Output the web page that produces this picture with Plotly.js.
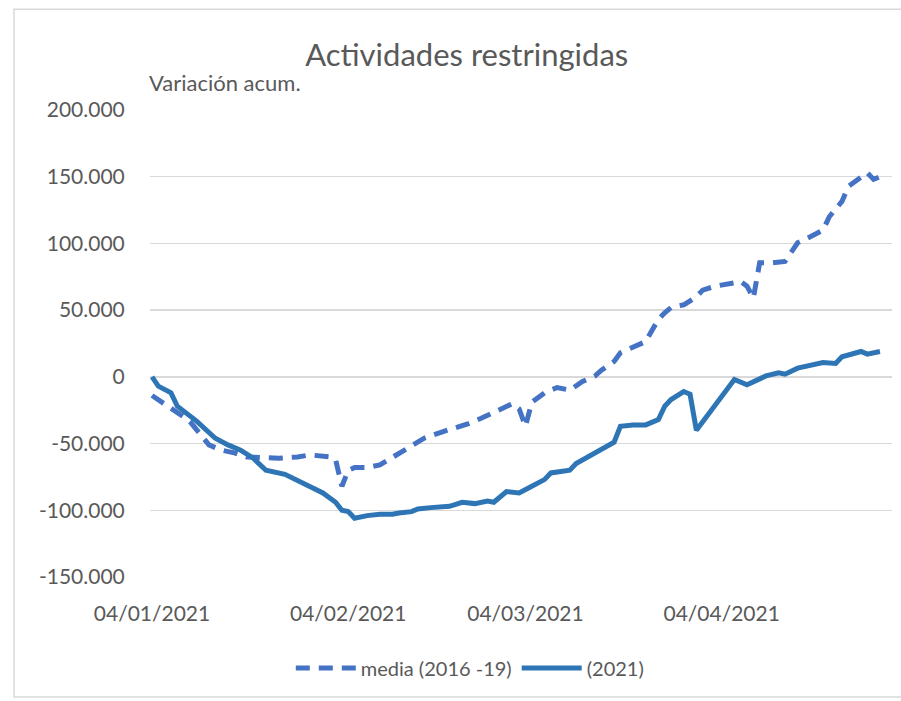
<!DOCTYPE html>
<html>
<head>
<meta charset="utf-8">
<script src="https://cdn.plot.ly/plotly-3.0.1.min.js"></script>
<style>html,body{margin:0;padding:0;background:#fff;}#chart{width:901px;height:701px;}</style>
</head>
<body>
<div id="chart"></div>
<script>
// Serie 2021
var fechas2021 = ['2021-01-04','2021-01-05','2021-01-07','2021-01-08','2021-01-11','2021-01-13','2021-01-14','2021-01-16','2021-01-18','2021-01-20','2021-01-22','2021-01-25','2021-01-28','2021-01-31','2021-02-02','2021-02-03','2021-02-04','2021-02-05','2021-02-07','2021-02-09','2021-02-11','2021-02-12','2021-02-14','2021-02-15','2021-02-17','2021-02-20','2021-02-22','2021-02-24','2021-02-26','2021-02-27','2021-03-01','2021-03-03','2021-03-05','2021-03-07','2021-03-08','2021-03-11','2021-03-12','2021-03-14','2021-03-16','2021-03-18','2021-03-19','2021-03-21','2021-03-23','2021-03-25','2021-03-26','2021-03-27','2021-03-29','2021-03-30','2021-03-31','2021-04-02','2021-04-04','2021-04-06','2021-04-08','2021-04-09','2021-04-11','2021-04-13','2021-04-14','2021-04-16','2021-04-20','2021-04-22','2021-04-23','2021-04-26','2021-04-27','2021-04-29'];
var valores2021 = [0,-7000,-12000,-22000,-33000,-41000,-46000,-51000,-55000,-61000,-70000,-73000,-80000,-87000,-94000,-100000,-101000,-106000,-104000,-103000,-103000,-102000,-101000,-99000,-98000,-97000,-94000,-95000,-93000,-94000,-86000,-87000,-82000,-77000,-72000,-70000,-65000,-60000,-55000,-49000,-37000,-36000,-36000,-32000,-22000,-17000,-11000,-13000,-40000,-27000,-15000,-2000,-6000,-3500,700,3000,2000,6500,10700,10000,15000,19000,17000,19000];

// Serie media 2016-19
var fechasMedia = ['2021-01-04','2021-01-07','2021-01-09','2021-01-10','2021-01-12','2021-01-13','2021-01-15','2021-01-17','2021-01-19','2021-01-22','2021-01-24','2021-01-27','2021-01-29','2021-02-01','2021-02-02','2021-02-03','2021-02-04','2021-02-05','2021-02-07','2021-02-09','2021-02-11','2021-02-13','2021-02-14','2021-02-16','2021-02-19','2021-02-21','2021-02-23','2021-02-25','2021-02-27','2021-03-01','2021-03-02','2021-03-03','2021-03-04','2021-03-05','2021-03-06','2021-03-07','2021-03-09','2021-03-11','2021-03-13','2021-03-15','2021-03-16','2021-03-18','2021-03-19','2021-03-22','2021-03-23','2021-03-24','2021-03-25','2021-03-26','2021-03-27','2021-03-29','2021-03-30','2021-03-31','2021-04-01','2021-04-03','2021-04-06','2021-04-07','2021-04-08','2021-04-09','2021-04-10','2021-04-12','2021-04-14','2021-04-15','2021-04-16','2021-04-18','2021-04-20','2021-04-21','2021-04-23','2021-04-24','2021-04-25','2021-04-27','2021-04-28','2021-04-29'];
var valoresMedia = [-14000,-23000,-30000,-33500,-45000,-51000,-55000,-57000,-60000,-61000,-61000,-60000,-58500,-60000,-62000,-82000,-70000,-68000,-68000,-66000,-60000,-55000,-52000,-46000,-41000,-38000,-35000,-31000,-27000,-23000,-20000,-24000,-37000,-19000,-16000,-12000,-8000,-10000,-3500,700,5000,11500,18000,24000,26500,35000,43000,48000,52000,54000,56500,60000,65000,68000,70500,71500,68000,59000,85500,85500,86500,93000,100500,105000,110000,120000,131500,142700,146500,153000,148000,150000];

// Ejes
var yTickVals = [-150000,-100000,-50000,0,50000,100000,150000,200000];
var yTickText = ['-150.000','-100.000','-50.000','0','50.000','100.000','150.000','200.000'];
var xTickVals = ['2021-01-04','2021-02-04','2021-03-04','2021-04-04'];
var xTickText = ['04/01/2021','04/02/2021','04/03/2021','04/04/2021'];

var FONT = 'Lato, "Open Sans", sans-serif';
var GREY = '#595959';

var traces = [
  {x: fechasMedia, y: valoresMedia, type: 'scatter', mode: 'lines', name: 'media (2016 -19)',
   line: {color: '#4472C4', width: 5, dash: '14px,9px'}},
  {x: fechas2021, y: valores2021, type: 'scatter', mode: 'lines', name: '(2021)',
   line: {color: '#2E75B6', width: 5}}
];

var layout = {
  width: 901, height: 701,
  margin: {l: 150, r: 9, t: 110, b: 124},
  paper_bgcolor: '#fff', plot_bgcolor: '#fff',
  font: {family: FONT, color: GREY},
  title: {text: 'Actividades restringidas', font: {family: FONT, size: 31, color: GREY},
          xref: 'container', yref: 'container', x: 0.518, xanchor: 'center', y: 0.921, yanchor: 'middle'},
  xaxis: {type: 'date', range: ['2021-01-03 16:25', '2021-04-30 21:40'],
          tickmode: 'array', tickvals: xTickVals, ticktext: xTickText,
          showgrid: false, zeroline: false, showline: false,
          ticks: 'outside', ticklen: 18, tickcolor: 'rgba(0,0,0,0)',
          tickfont: {family: FONT, size: 21, color: GREY}},
  yaxis: {range: [-150000, 200000], tickmode: 'array', tickvals: yTickVals, ticktext: yTickText,
          showgrid: true, gridcolor: '#d9d9d9', gridwidth: 1.5, zeroline: false, showline: false,
          ticks: 'outside', ticklen: 20, tickcolor: 'rgba(0,0,0,0)',
          tickfont: {family: FONT, size: 21, color: GREY}},
  showlegend: true,
  legend: {orientation: 'h', x: 0.431, xanchor: 'center', y: -0.195, yanchor: 'middle',
           font: {family: FONT, size: 20, color: GREY}, itemwidth: 60, traceorder: 'normal'},
  annotations: [
    {text: 'Variación acum.', xref: 'paper', yref: 'paper', x: -0.004, xanchor: 'left',
     y: 1.058, yanchor: 'middle', showarrow: false, font: {family: FONT, size: 22, color: GREY}}
  ],
  shapes: [
    {type: 'rect', xref: 'paper', yref: 'paper', x0: -0.1833, x1: 1.05, y0: -0.257, y1: 1.216,
     line: {color: '#d9d9d9', width: 1.5}, fillcolor: 'rgba(0,0,0,0)', layer: 'below'}
  ]
};

Plotly.newPlot('chart', traces, layout, {displayModeBar: false, staticPlot: true});
</script>
</body>
</html>
